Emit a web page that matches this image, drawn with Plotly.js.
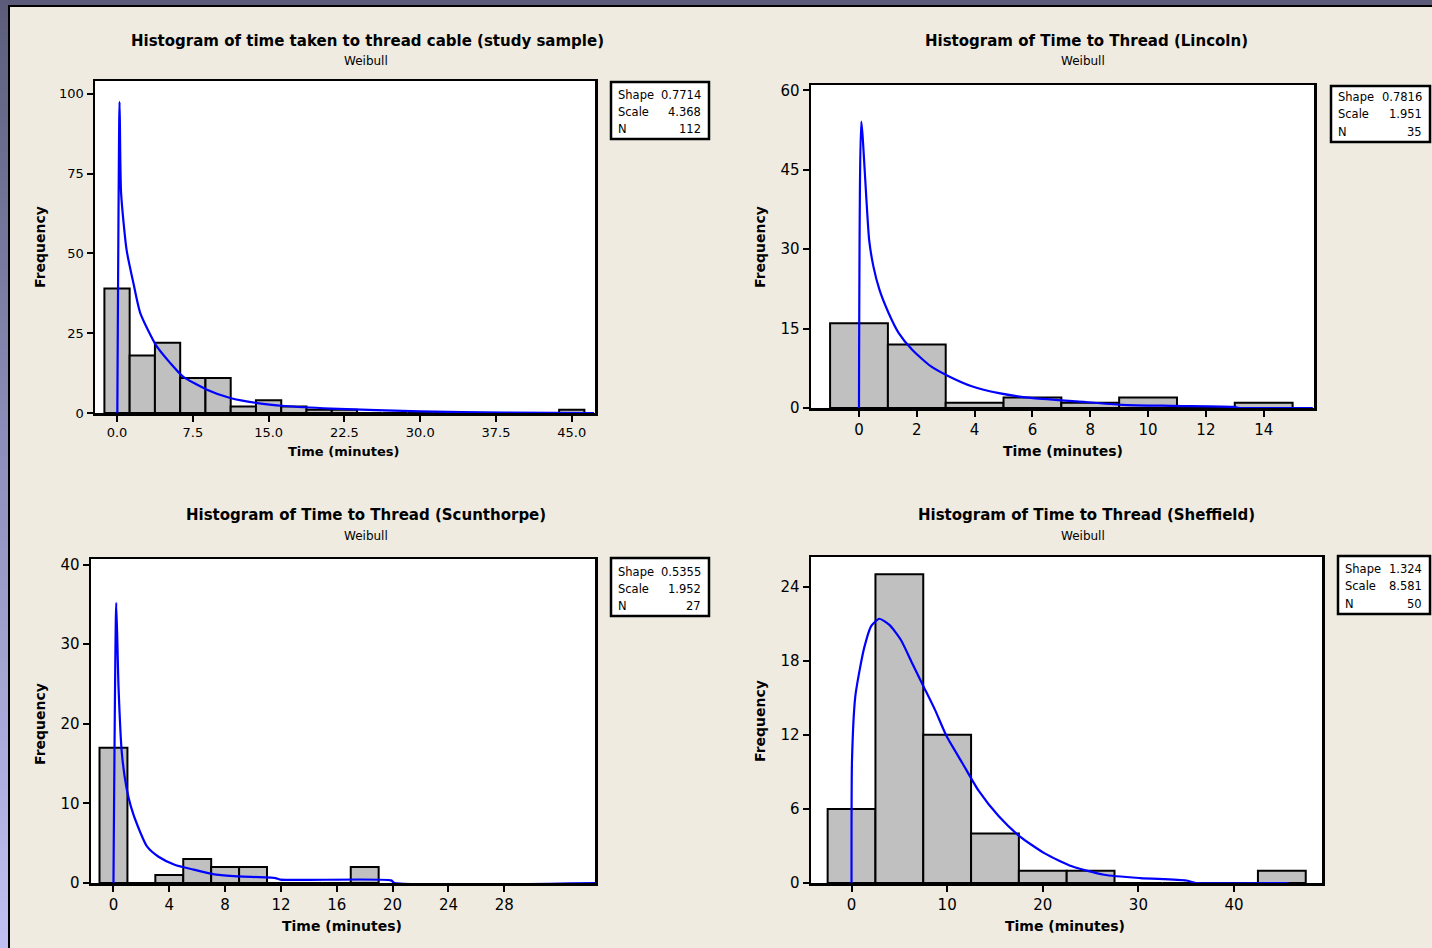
<!DOCTYPE html>
<html><head><meta charset="utf-8">
<script src="https://cdn.plot.ly/plotly-3.0.1.min.js"></script>
<style>
html,body{margin:0;padding:0;background:#EFEBE1;overflow:hidden;width:1432px;height:948px}
#chart{position:absolute;left:0;top:0;width:1432px;height:948px}
.ov{position:absolute;pointer-events:none}
</style></head>
<body>
<div id="chart"></div>
<div class="ov" style="left:0;top:0;width:1432px;height:5px;background:#5C5C7A"></div>
<div class="ov" style="left:0;top:0;width:8px;height:948px;background:linear-gradient(#5C5C7A,#8C8CB8 45%,#C0C0F2)"></div>
<div class="ov" style="left:8px;top:5px;width:1424px;height:2px;background:#000"></div>
<div class="ov" style="left:8px;top:5px;width:2px;height:943px;background:#000"></div>
<script>
// ---------- DATA ----------
// Panel 1: study sample (bin width 2.5)
const binsStudy = [0, 2.5, 5, 7.5, 10, 12.5, 15, 17.5, 20, 22.5, 25, 27.5, 30, 32.5, 35, 37.5, 40, 42.5, 45];
const freqStudy = [39, 18, 22, 11, 11, 2, 4, 2, 1, 1, 0, 0, 0, 0, 0, 0, 0, 0, 1];
const fitStudyX = [0.03, 0.25, 0.4, 0.95, 1.62, 2.3, 3.9, 5.25, 6.5, 8.9, 11.2, 13.9, 16.6, 21.2, 30, 38.3, 47.2];
const fitStudyY = [0, 97.5, 69, 51, 40.7, 31.3, 21, 15.7, 11.5, 7.3, 4.7, 3.1, 2.2, 1.4, 0.5, 0.1, 0];
const statsStudy = ["0.7714", "4.368", "112"];

// Panel 2: Lincoln (bin width 2)
const binsLincoln = [0, 2, 4, 6, 8, 10, 12, 14];
const freqLincoln = [16, 12, 1, 2, 1, 2, 0, 1];
const fitLincolnX = [0, 0.08, 0.35, 0.5, 0.71, 1.02, 1.37, 1.84, 2.48, 3.1, 3.9, 4.84, 5.95, 7.53, 9.1, 10.85, 13.0, 13.1, 15.7];
const fitLincolnY = [0, 54.1, 31.8, 26.7, 22.3, 18, 14.2, 11, 7.9, 6.0, 4.1, 2.8, 1.9, 1.25, 0.6, 0.4, 0.2, 0.05, 0];
const statsLincoln = ["0.7816", "1.951", "35"];

// Panel 3: Scunthorpe (bin width 2)
const binsScun = [0, 2, 4, 6, 8, 10, 12, 14, 16, 18];
const freqScun = [17, 0, 1, 3, 2, 2, 0, 0, 0, 2];
const fitScunX = [0, 0.2, 0.36, 0.6, 0.92, 1.25, 1.75, 2.4, 3.23, 4.38, 5.7, 7.35, 9.0, 11.6, 11.95, 19.9, 20.1, 34.5];
const fitScunY = [0, 35.2, 24.7, 16.3, 12.1, 9.6, 7.1, 4.6, 3.3, 2.3, 1.7, 1.05, 0.83, 0.62, 0.42, 0.33, 0.03, 0];
const statsScun = ["0.5355", "1.952", "27"];

// Panel 4: Sheffield (bin width 5)
const binsSheff = [0, 5, 10, 15, 20, 25, 30, 35, 40, 45];
const freqSheff = [6, 25, 12, 4, 1, 1, 0, 0, 0, 1];
const fitSheffX = [0, 0.05, 0.39, 0.86, 1.34, 2.05, 2.9, 3.96, 5.15, 6.34, 7.54, 8.74, 9.93, 11.6, 13.27, 15.4, 17.55, 20.2, 23.05, 26.4, 30.2, 35.0, 35.9, 45.7];
const fitSheffY = [0, 10.0, 15.1, 17.3, 19.1, 20.8, 21.4, 20.9, 19.7, 17.8, 15.9, 14.0, 11.9, 9.7, 7.5, 5.4, 3.8, 2.4, 1.35, 0.67, 0.4, 0.2, 0.02, 0];
const statsSheff = ["1.324", "8.581", "50"];

const statLabels = ["Shape", "Scale", "N"];

// ---------- LAYOUT HELPERS ----------
const W = 1432, H = 948;
const px = x => x / W;
const py = y => 1 - y / H;

const panels = [
  {bins: binsStudy, freq: freqStudy, bw: 2.5, fx: fitStudyX, fy: fitStudyY, stats: statsStudy,
   box: [95, 595, 81, 413], xr: [-2.18, 47.3], yr: [0, 104], xticks: [0, 7.5, 15, 22.5, 30, 37.5, 45], xfmt: '.1f', yticks: [0, 25, 50, 75, 100], tickSize: 13,
   title: "Histogram of time taken to thread cable (study sample)", tc: 367, ty: 41, wc: 366, wy: 61,
   fqx: 40, fqy: 247, tmx: 343, tmy: 451, tmSize: 13,
   leg: [611, 709, 82, 139], legRows: [95, 112, 129]},
  {bins: binsLincoln, freq: freqLincoln, bw: 2, fx: fitLincolnX, fy: fitLincolnY, stats: statsLincoln,
   box: [811, 1314, 85, 408], xr: [-1.66, 15.74], yr: [0, 61], xticks: [0, 2, 4, 6, 8, 10, 12, 14], xfmt: '', yticks: [0, 15, 30, 45, 60], tickSize: 15,
   title: "Histogram of Time to Thread (Lincoln)", tc: 1086, ty: 41, wc: 1083, wy: 61,
   fqx: 760, fqy: 247, tmx: 1063, tmy: 451, tmSize: 14,
   leg: [1331, 1430, 86, 142], legRows: [97, 114, 132]},
  {bins: binsScun, freq: freqScun, bw: 2, fx: fitScunX, fy: fitScunY, stats: statsScun,
   box: [91, 595, 559, 883], xr: [-1.61, 34.5], yr: [0, 40.7], xticks: [0, 4, 8, 12, 16, 20, 24, 28], xfmt: '', yticks: [0, 10, 20, 30, 40], tickSize: 15,
   title: "Histogram of Time to Thread (Scunthorpe)", tc: 366, ty: 515, wc: 366, wy: 536,
   fqx: 40, fqy: 724, tmx: 342, tmy: 926, tmSize: 14,
   leg: [611, 709, 558, 616], legRows: [572, 589, 606]},
  {bins: binsSheff, freq: freqSheff, bw: 5, fx: fitSheffX, fy: fitSheffY, stats: statsSheff,
   box: [811, 1322, 557, 883], xr: [-4.24, 49.2], yr: [0, 26.4], xticks: [0, 10, 20, 30, 40], xfmt: '', yticks: [0, 6, 12, 18, 24], tickSize: 15,
   title: "Histogram of Time to Thread (Sheffield)", tc: 1086, ty: 515, wc: 1083, wy: 536,
   fqx: 760, fqy: 721, tmx: 1065, tmy: 926, tmSize: 14,
   leg: [1338, 1430, 556, 614], legRows: [569, 586, 604]}
];

const traces = [];
const layout = {
  width: W, height: H,
  margin: {l: 0, r: 0, t: 0, b: 0},
  paper_bgcolor: '#EFEBE1',
  plot_bgcolor: '#FFFFFF',
  showlegend: false,
  bargap: 0,
  annotations: [],
  shapes: [],
  font: {family: 'DejaVu Sans', color: '#000'}
};

panels.forEach((p, i) => {
  const n = i === 0 ? '' : String(i + 1);
  const xa = 'x' + n, ya = 'y' + n;
  traces.push({
    type: 'bar', x: p.bins, y: p.freq, width: p.bw, xaxis: xa, yaxis: ya,
    marker: {color: '#C0C0C0', line: {color: '#000000', width: 2}},
    hoverinfo: 'skip'
  });
  traces.push({
    type: 'scatter', mode: 'lines', x: p.fx, y: p.fy, xaxis: xa, yaxis: ya,
    line: {color: '#0000FF', width: 2.2, shape: 'spline', smoothing: 0.6},
    hoverinfo: 'skip'
  });
  const axCommon = {
    showgrid: false, zeroline: false, showline: true, linecolor: '#000', linewidth: 2.5,
    mirror: true, ticks: 'outside', ticklen: 6, tickwidth: 2, tickcolor: '#000',
    tickfont: {family: 'DejaVu Sans', size: p.tickSize, color: '#000'}, fixedrange: true
  };
  layout['xaxis' + n] = Object.assign({}, axCommon, {
    domain: [px(p.box[0]), px(p.box[1])], range: p.xr, anchor: ya,
    tickmode: 'array', tickvals: p.xticks, tickformat: p.xfmt
  });
  layout['yaxis' + n] = Object.assign({}, axCommon, {
    domain: [py(p.box[3]), py(p.box[2])], range: p.yr, anchor: xa,
    tickmode: 'array', tickvals: p.yticks
  });
  // titles
  layout.annotations.push({xref: 'paper', yref: 'paper', x: px(p.tc), y: py(p.ty), text: p.title, showarrow: false,
    xanchor: 'center', yanchor: 'middle', font: {family: 'DejaVu Sans', size: 15, color: '#000', weight: 'bold'}});
  layout.annotations.push({xref: 'paper', yref: 'paper', x: px(p.wc), y: py(p.wy), text: 'Weibull', showarrow: false,
    xanchor: 'center', yanchor: 'middle', font: {family: 'DejaVu Sans', size: 12, color: '#000'}});
  layout.annotations.push({xref: 'paper', yref: 'paper', x: px(p.fqx), y: py(p.fqy), text: 'Frequency', showarrow: false,
    textangle: -90, xanchor: 'center', yanchor: 'middle', font: {family: 'DejaVu Sans', size: 14, color: '#000', weight: 'bold'}});
  layout.annotations.push({xref: 'paper', yref: 'paper', x: px(p.tmx), y: py(p.tmy), text: 'Time (minutes)', showarrow: false,
    xanchor: 'center', yanchor: 'middle', font: {family: 'DejaVu Sans', size: p.tmSize, color: '#000', weight: 'bold'}});
  // stats box
  layout.shapes.push({type: 'rect', xref: 'paper', yref: 'paper',
    x0: px(p.leg[0]), x1: px(p.leg[1]), y0: py(p.leg[3]), y1: py(p.leg[2]),
    line: {color: '#000', width: 2.5}, fillcolor: '#FFFFFF'});
  statLabels.forEach((lab, k) => {
    layout.annotations.push({xref: 'paper', yref: 'paper', x: px(p.leg[0] + 5), y: py(p.legRows[k]), text: lab, showarrow: false,
      xanchor: 'left', yanchor: 'middle', font: {family: 'DejaVu Sans', size: 11.5, color: '#000'}});
    layout.annotations.push({xref: 'paper', yref: 'paper', x: px(p.leg[1] - 6), y: py(p.legRows[k]), text: p.stats[k], showarrow: false,
      xanchor: 'right', yanchor: 'middle', font: {family: 'DejaVu Sans', size: 11.5, color: '#000'}});
  });
});

Plotly.newPlot('chart', traces, layout, {staticPlot: true, displayModeBar: false});
</script>
</body></html>
